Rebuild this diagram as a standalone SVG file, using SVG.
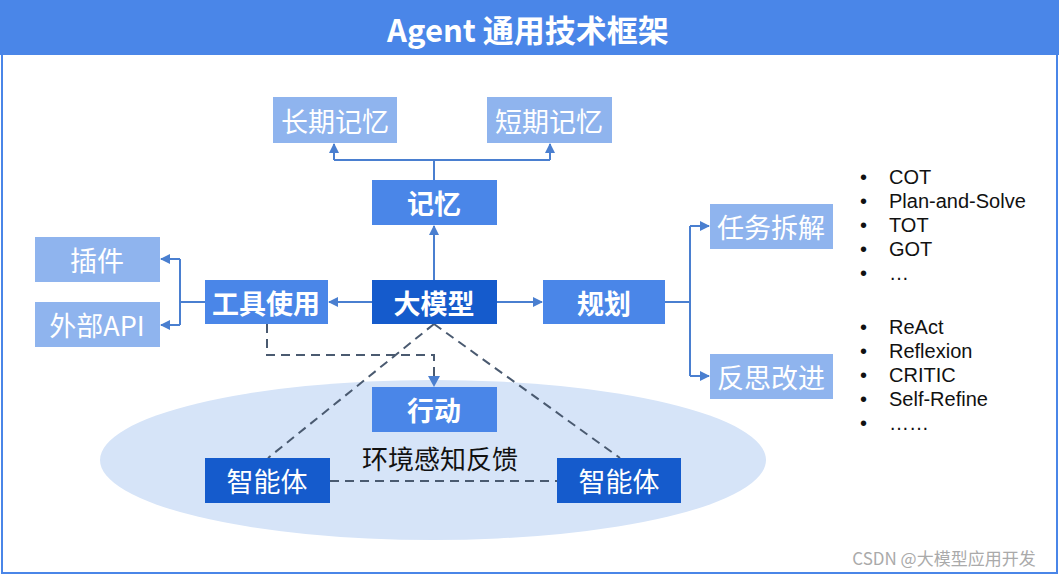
<svg xmlns="http://www.w3.org/2000/svg" width="1059" height="575" viewBox="0 0 1059 575">
<style>
text{font-family:"Noto Sans CJK SC","Liberation Sans",sans-serif;text-anchor:middle;dominant-baseline:central}
.l{fill:#8fb4ee}.m{fill:#4a86e8}.d{fill:#155bcc}
.w{fill:#fff;font-size:27px;font-weight:bold}
.wl{fill:#fff;font-size:27px}
.c{stroke:#4a7fd0;stroke-width:2;fill:none}
.ds{stroke:#4a5a70;stroke-width:2;fill:none;stroke-dasharray:9,6}
.li{font-family:"Liberation Sans",sans-serif;font-size:20px;text-anchor:start;fill:#111}
</style>
<defs><marker id="a" viewBox="0 0 10 10" refX="9" refY="5" markerWidth="5" markerHeight="5" orient="auto"><path d="M0,0L10,5L0,10z" fill="#4a7fd0"/></marker></defs>
<rect width="1059" height="575" fill="#fff"/>
<rect x="2" y="2" width="1055" height="571" fill="none" stroke="#4a86e8" stroke-width="2"/>
<rect x="0" y="0" width="1059" height="55" fill="#4a86e8"/>
<text x="528" y="28" style="fill:#fff;font-size:31px;font-weight:bold">Agent 通用技术框架</text>
<ellipse cx="433" cy="460" rx="333" ry="80" fill="#d6e4f8"/>
<g id="connectors">
<path class="c" d="M434,180V160M334,160H550M334,160V144" marker-end="url(#a)"/>
<path class="c" d="M550,160V144" marker-end="url(#a)"/>
<path class="c" d="M434,280V226" marker-end="url(#a)"/>
<path class="c" d="M372,302H329" marker-end="url(#a)"/>
<path class="c" d="M205,302H180M180,259V325"/>
<path class="c" d="M180,259H161" marker-end="url(#a)"/>
<path class="c" d="M180,325H161" marker-end="url(#a)"/>
<path class="c" d="M497,302H542" marker-end="url(#a)"/>
<path class="c" d="M665,302H690M690,226V376"/>
<path class="c" d="M690,226H709" marker-end="url(#a)"/>
<path class="c" d="M690,376H709" marker-end="url(#a)"/>
<path class="ds" d="M267,324V355H434V380"/>
<path d="M428,376L440,376L434,387z" fill="#4a7fd0"/>
<path class="ds" d="M434,324L268,458M434,324L620,458M330,481H557"/>
</g>
<g id="n1"><rect class="l" x="273" y="97" width="124" height="46"/><text class="wl" x="335" y="120">长期记忆</text></g>
<g id="n2"><rect class="l" x="487" y="97" width="125" height="46"/><text class="wl" x="549" y="120">短期记忆</text></g>
<g id="n3"><rect class="m" x="372" y="180" width="125" height="45"/><text class="w" x="434" y="202">记忆</text></g>
<g id="n4"><rect class="d" x="372" y="280" width="125" height="44"/><text class="w" x="434" y="302">大模型</text></g>
<g id="n5"><rect class="m" x="205" y="280" width="123" height="44"/><text class="w" x="266" y="302">工具使用</text></g>
<g id="n6"><rect class="m" x="543" y="280" width="122" height="44"/><text class="w" x="604" y="302">规划</text></g>
<g id="n7"><rect class="l" x="35" y="237" width="125" height="45"/><text class="wl" x="97" y="259">插件</text></g>
<g id="n8"><rect class="l" x="35" y="302" width="125" height="45"/><text class="wl" x="97" y="324">外部API</text></g>
<g id="n9"><rect class="l" x="710" y="204" width="123" height="45"/><text class="wl" x="771" y="226">任务拆解</text></g>
<g id="n10"><rect class="l" x="710" y="354" width="123" height="45"/><text class="wl" x="771" y="376">反思改进</text></g>
<g id="n11"><rect class="m" x="372" y="387" width="125" height="45"/><text class="w" x="434" y="409">行动</text></g>
<g id="n12"><rect class="d" x="205" y="458" width="125" height="45"/><text class="wl" x="267" y="480">智能体</text></g>
<g id="n13"><rect class="d" x="557" y="458" width="124" height="45"/><text class="wl" x="619" y="480">智能体</text></g>
<text x="440" y="457" style="font-size:26px;fill:#111">环境感知反馈</text>
<g id="lists">
<text class="li" x="860" y="177">•</text><text class="li" x="889" y="177">COT</text>
<text class="li" x="860" y="201">•</text><text class="li" x="889" y="201">Plan-and-Solve</text>
<text class="li" x="860" y="225">•</text><text class="li" x="889" y="225">TOT</text>
<text class="li" x="860" y="249">•</text><text class="li" x="889" y="249">GOT</text>
<text class="li" x="860" y="273">•</text><text class="li" x="889" y="273">…</text>
<text class="li" x="860" y="327">•</text><text class="li" x="889" y="327">ReAct</text>
<text class="li" x="860" y="351">•</text><text class="li" x="889" y="351">Reflexion</text>
<text class="li" x="860" y="375">•</text><text class="li" x="889" y="375">CRITIC</text>
<text class="li" x="860" y="399">•</text><text class="li" x="889" y="399">Self-Refine</text>
<text class="li" x="860" y="423">•</text><text class="li" x="889" y="423">……</text>
</g>
<text x="944" y="557" style="font-size:17px;fill:#aaa">CSDN @大模型应用开发</text>
</svg>
